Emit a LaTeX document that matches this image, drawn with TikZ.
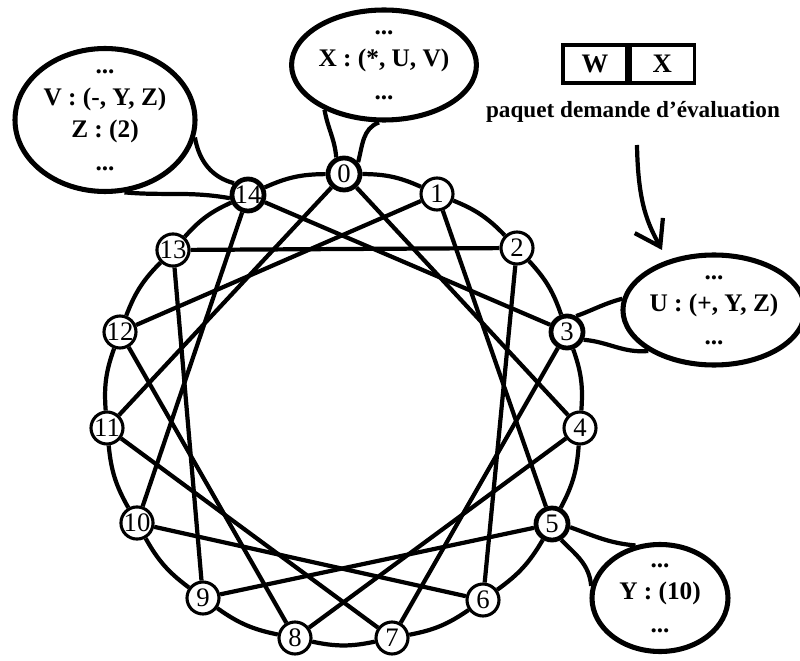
\documentclass[tikz,border=0pt]{standalone}
\usepackage{fontspec}
\setmainfont{Liberation Serif}
\usetikzlibrary{positioning,shapes.geometric,arrows.meta}

\begin{document}
\begin{tikzpicture}[
  link/.style={line width=3pt},
  pe/.style={circle, draw, fill=white, line width=2.2pt, minimum size=0.8cm, inner sep=0pt, font=\fontsize{19}{19}\selectfont},
  pehost/.style={pe, line width=3.4pt},
  mem/.style={ellipse, draw, fill=white, line width=3.6pt, inner sep=0pt, align=center, font=\bfseries\fontsize{18}{23}\selectfont},
  cell/.style={draw, line width=2.4pt, minimum width=1.6cm, minimum height=0.95cm, inner sep=0pt, font=\bfseries\fontsize{19}{19}\selectfont}
]
\useasboundingbox (0,0) rectangle (20,16.5);
\node[pehost] (n0) at (8.60,12.15) {0};
\node[pe] (n1) at (10.925,11.65) {1};
\node[pe] (n2) at (12.925,10.30) {2};
\node[pehost] (n3) at (14.175,8.20) {3};
\node[pe] (n4) at (14.50,5.80) {4};
\node[pehost] (n5) at (13.80,3.40) {5};
\node[pe] (n6) at (12.075,1.50) {6};
\node[pe] (n7) at (9.80,0.55) {7};
\node[pe] (n8) at (7.375,0.55) {8};
\node[pe] (n9) at (5.075,1.55) {9};
\node[pe] (n10) at (3.425,3.425) {10};
\node[pe] (n11) at (2.675,5.80) {11};
\node[pe] (n12) at (3.00,8.20) {12};
\node[pe] (n13) at (4.325,10.25) {13};
\node[pehost] (n14) at (6.20,11.625) {14};
\node[mem, minimum width=4.55cm, minimum height=2.75cm] (memX) at (9.60,14.875) {...\\X : (*, U, V)\\...};
\node[mem, minimum width=4.5cm, minimum height=3.35cm] (memV) at (2.625,13.50) {...\\V : (-, Y, Z)\\Z : (2)\\...};
\node[mem, minimum width=4.15cm, minimum height=2.75cm] (memU) at (17.85,8.75) {...\\U : (+, Y, Z)\\...};
\node[mem, minimum width=3.4cm, minimum height=2.675cm] (memY) at (16.50,1.55) {...\\Y : (10)\\...};
\node[cell] (pktW) at (14.875,14.90) {W};
\node[cell, right=0pt of pktW] (pktX) {X};
\node[font=\bfseries\fontsize{16.5}{16.5}\selectfont] (pktlabel) at (15.825,13.70) {paquet demande d'évaluation};
\coordinate (reqA) at (15.925,12.875);
\coordinate (reqB) at (16.55,10.25);
\draw[link, bend left=12] (n0) to (n1);
\draw[link, bend left=12] (n1) to (n2);
\draw[link, bend left=12] (n2) to (n3);
\draw[link, bend left=12] (n3) to (n4);
\draw[link, bend left=12] (n4) to (n5);
\draw[link, bend left=12] (n5) to (n6);
\draw[link, bend left=12] (n6) to (n7);
\draw[link, bend left=12] (n7) to (n8);
\draw[link, bend left=12] (n8) to (n9);
\draw[link, bend left=12] (n9) to (n10);
\draw[link, bend left=12] (n10) to (n11);
\draw[link, bend left=12] (n11) to (n12);
\draw[link, bend left=12] (n12) to (n13);
\draw[link, bend left=12] (n13) to (n14);
\draw[link, bend left=12] (n14) to (n0);
\draw[link] (n0) -- (n4);
\draw[link] (n1) -- (n5);
\draw[link] (n2) -- (n6);
\draw[link] (n3) -- (n7);
\draw[link] (n4) -- (n8);
\draw[link] (n5) -- (n9);
\draw[link] (n6) -- (n10);
\draw[link] (n7) -- (n11);
\draw[link] (n8) -- (n12);
\draw[link] (n9) -- (n13);
\draw[link] (n10) -- (n14);
\draw[link] (n11) -- (n0);
\draw[link] (n12) -- (n1);
\draw[link] (n13) -- (n2);
\draw[link] (n14) -- (n3);
\draw[link] (n0.115) to[out=95,in=-80] (memX.-143);
\draw[link] (n0.40) to[out=75,in=200] (memX.-95);
\draw[link] (memV.-11) to[out=-80,in=165] (n14.140);
\draw[link] (memV.-75) to[out=-5,in=170] (n14.190);
\draw[link] (n3.60) to[out=20,in=195] (memU.173);
\draw[link] (n3.-25) to[out=-5,in=185] (memU.-148);
\draw[link] (n5.-10) to[out=-20,in=175] (memY.115);
\draw[link] (n5.-60) to[out=-45,in=95] (memY.170);
\draw[link, -{Straight Barb[length=6mm,width=8mm]}] (reqA) .. controls (15.95,11.4) and (16.2,10.9) .. (reqB);
\end{tikzpicture}
\end{document}
